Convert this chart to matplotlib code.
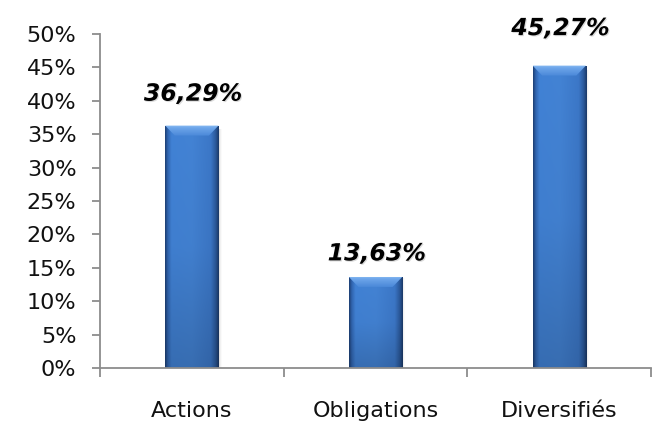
import numpy as np
import matplotlib
matplotlib.use('Agg')
import matplotlib.pyplot as plt
import matplotlib.patheffects as pe
from matplotlib.colors import to_rgb
from matplotlib.patches import Polygon, Rectangle
from matplotlib.ticker import FixedLocator, FuncFormatter

categories = ['Actions', 'Obligations', 'Diversifiés']
values = [36.29, 13.63, 45.27]
value_labels = ['36,29%', '13,63%', '45,27%']
yticks = [0, 5, 10, 15, 20, 25, 30, 35, 40, 45, 50]

# label offset above bar top (points), as in the original layout
label_offsets = [23, 17, 27]

plt.rcParams['font.family'] = ['DejaVu Sans']


def ramp(stops, n):
    pos = np.array([s[0] for s in stops])
    cols = np.array([to_rgb(s[1]) for s in stops])
    t = np.linspace(0, 1, n)
    return np.stack([np.interp(t, pos, cols[:, k]) for k in range(3)], axis=-1)


# horizontal profile of the bar face
hprof = ramp([(0.0, '#1c3d70'), (0.05, '#2f62ab'), (0.12, '#3f7ecf'), (0.5, '#417fce'),
              (0.85, '#3a74c2'), (0.94, '#2a5797'), (1.0, '#1a3764')], 200)
# vertical brightness (top -> bottom)
vprof = np.interp(np.linspace(0, 1, 200), [0, 0.5, 1], [1.03, 1.0, 0.86])
face = np.clip(vprof[:, None, None] * hprof[None, :, :], 0, 1)

bevel = ramp([(0.0, '#8cbdf3'), (0.25, '#6ea6ea'), (1.0, '#4a88d8')], 50)[:, None, :]
bevel = np.repeat(bevel, 10, axis=1)

fig = plt.figure(figsize=(6.6, 4.25), dpi=100)
ax = fig.add_axes([0.1515, 0.134, 0.835, 0.786])

x = np.arange(len(categories))
bars = ax.bar(x, values, width=0.29, color='none', edgecolor='none', zorder=2)

for b in bars:
    x0, w, h = b.get_x(), b.get_width(), b.get_height()
    # soft shadow to the right
    for k, a in enumerate([0.10, 0.06, 0.03]):
        ax.add_patch(Rectangle((x0 + w, 0), 0.006 * (k + 1), h * 0.985,
                               facecolor='#666666', edgecolor='none', alpha=a, zorder=1))
    im = ax.imshow(face, aspect='auto', extent=[x0, x0 + w, 0, h],
                   zorder=2, interpolation='bilinear')
    im.set_clip_path(b)
    dx = w * 0.18
    dy = 1.5
    top = Polygon([[x0, h], [x0 + w, h], [x0 + w - dx, h - dy], [x0 + dx, h - dy]],
                  closed=True, facecolor='none', edgecolor='none', zorder=3)
    ax.add_patch(top)
    bim = ax.imshow(bevel, aspect='auto', extent=[x0, x0 + w, h - dy, h],
                    zorder=3, interpolation='bilinear')
    bim.set_clip_path(top)

for xi, v, lab, off in zip(x, values, value_labels, label_offsets):
    ax.annotate(lab, (xi, v), xytext=(1, off), textcoords='offset points',
                ha='center', va='center', fontsize=17, fontweight='bold', style='italic',
                color='black', zorder=5,
                path_effects=[pe.SimplePatchShadow(offset=(0.8, -0.8), shadow_rgbFace='#999999', alpha=0.35),
                              pe.Normal()])

ax.set_xlim(-0.5, len(categories) - 0.5)
ax.set_ylim(0, 50)
ax.set_yticks(yticks)
ax.yaxis.set_major_formatter(FuncFormatter(lambda v, p: '%d%%' % v))

ax.set_xticks(x)
ax.set_xticklabels(categories)
ax.xaxis.set_minor_locator(FixedLocator(np.arange(-0.5, len(categories), 1.0)))

for s in ['top', 'right']:
    ax.spines[s].set_visible(False)
for s in ['left', 'bottom']:
    ax.spines[s].set_color('#8c8c8c')
    ax.spines[s].set_linewidth(1.3)

ax.tick_params(axis='y', which='major', direction='out', length=6, width=1.3,
               color='#8c8c8c', labelsize=16, pad=11, labelcolor='#111111')
ax.tick_params(axis='x', which='major', length=0, labelsize=16, pad=24, labelcolor='#111111')
ax.tick_params(axis='x', which='minor', direction='out', length=6.5, width=1.3, color='#8c8c8c')

fig.savefig('out.png', dpi=100)
